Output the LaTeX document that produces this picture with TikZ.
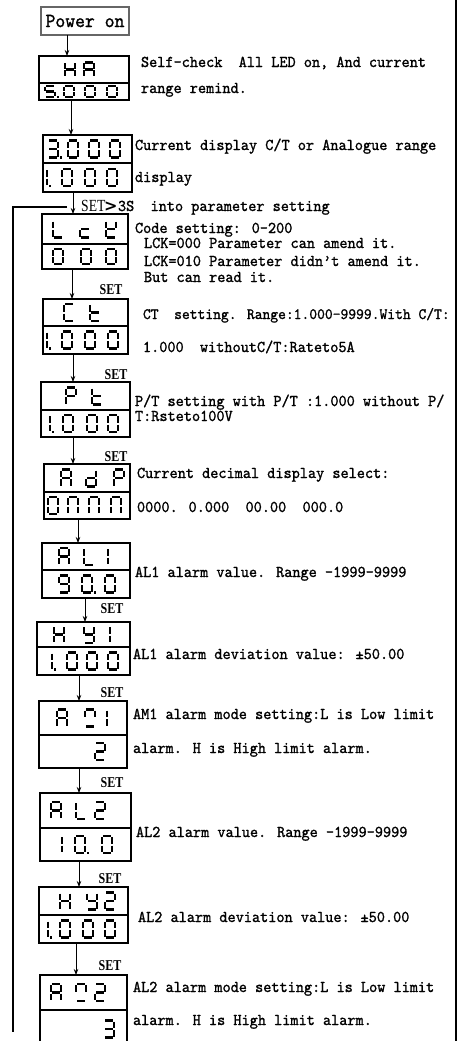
\documentclass[tikz,border=0pt]{standalone}
\usepackage{fontspec}
\usetikzlibrary{arrows.meta}
\newfontfamily\monof[FakeStretch=0.94,FakeBold=1.2]{lmmono10-regular.otf}
\newfontfamily\setf[FakeStretch=0.8]{Liberation Serif}
\newfontfamily\gtf{DejaVu Sans}
% seven-segment pieces (y axis points down)
\def\sgpa{\draw[seg] (-4,-8.5)--(4,-8.5);}
\def\sgpb{\draw[seg] (5,-7.5)--(5,-1);}
\def\sgpc{\draw[seg] (5,1)--(5,7.5);}
\def\sgpd{\draw[seg] (-4,8.5)--(4,8.5);}
\def\sgpe{\draw[seg] (-5,1)--(-5,7.5);}
\def\sgpf{\draw[seg] (-5,-7.5)--(-5,-1);}
\def\sgpg{\draw[seg] (-4,0)--(4,0);}
\def\sgpp{\fill (6.6,7.2) rectangle (9,9.8);}
\def\segloop#1{\ifx#1\relax\else\csname sgp#1\endcsname\expandafter\segloop\fi}
\newcommand\dig[4][1]{\begin{scope}[shift={(#2,#3)},yscale=#1]\segloop#4\relax\end{scope}}
\newcommand\dispbox[6]{%
  \node[disp, minimum width={#4-#2}, minimum height={#5-#3}] (#1) at (#2,#3) {};
  \draw[divl] (#1.west |- 0,#6) -- (#1.east |- 0,#6);}
\begin{document}
\begin{tikzpicture}[x=1pt,y=-1pt,
  txt/.style={font=\monof\fontsize{16.5}{18}\selectfont, anchor=base west, inner sep=0, outer sep=0},
  setl/.style={font=\setf\bfseries\fontsize{15}{17}\selectfont, anchor=base, inner sep=0},
  disp/.style={draw, line width=2.2pt, anchor=north west, inner sep=0, outer sep=0},
  divl/.style={line width=2.2pt},
  seg/.style={line width=2.4pt},
  arr/.style={line width=0.9pt, -{Stealth[length=6pt,width=4.5pt]}},
  loopl/.style={line width=2pt}]
\useasboundingbox (0,0) rectangle (459,1041);
% right border
\coordinate (rt) at (456,0); \coordinate (rb) at (456,1041);
\draw[line width=1.5pt] (rt) -- (rb);
% power on
\node[draw=black!60, line width=1.8pt, minimum width=88, minimum height=28, inner sep=0, outer sep=0,
  font=\monof\fontsize{20}{22}\selectfont] (pwr) at (85,21) {Power on};
% displays
\dispbox{d1}{39}{56}{129}{100}{83}
\dig[0.8]{70}{69.5}{bcefg}\dig[0.8]{89}{69.5}{abcefg}
\dig[0.66]{50}{91.5}{acdfgp}\dig[0.66]{69}{91.5}{abcdef}\dig[0.66]{90}{91.5}{abcdef}\dig[0.66]{112}{91.5}{abcdef}
\dispbox{d2}{43}{135}{132}{192}{163}
\dig{53}{149}{abcdgp}\dig{73}{149}{abcdef}\dig{94}{149}{abcdef}\dig{115}{149}{abcdef}
\dig{42}{177.5}{bcp}\dig{67}{177.5}{abcdef}\dig{90}{177.5}{abcdef}\dig{112}{177.5}{abcdef}
\dispbox{lck}{42}{214}{128}{269}{244}
\dig{58}{229}{def}\dig{85}{229}{deg}\dig{111}{229}{bdefg}
\dig[0.9]{58}{256.5}{abcdef}\dig[0.9]{86}{256.5}{abcdef}\dig[0.9]{111}{256.5}{abcdef}
\dispbox{ct}{43}{299}{128}{354}{326}
\dig{69}{312.5}{adef}\dig{95}{312.5}{defg}
\dig{42}{340}{bcp}\dig{67}{340}{abcdef}\dig{90}{340}{abcdef}\dig{113}{340}{abcdef}
\dispbox{pt}{41}{382}{130}{437}{410}
\dig{71}{396}{abefg}\dig{97}{396}{defg}
\dig{45}{423.5}{bcp}\dig{68}{423.5}{abcdef}\dig{92}{423.5}{abcdef}\dig{113}{423.5}{abcdef}
\dispbox{adp}{44}{464}{130}{519}{492}
\dig{66}{478}{abcefg}\dig{91}{478}{bcdeg}\dig{119}{478}{abefg}
\dig{53}{505.5}{abcdef}\dig{73}{505.5}{abcef}\dig{94}{505.5}{abcef}\dig{116}{505.5}{abcef}
\dispbox{al1}{42}{543}{130}{598}{570}
\dig{64}{556.5}{abcefg}\dig{89}{556.5}{def}\dig{103}{556.5}{bc}
\dig{64}{584}{abcdfg}\dig{87}{584}{abcdefp}\dig{110}{584}{abcdef}
\dispbox{hy1}{37}{622}{130}{675}{647}
\dig{59}{634.5}{bcefg}\dig{89}{634.5}{bcdfg}\dig{105}{634.5}{bc}
\dig{47}{661}{bcp}\dig{72}{661}{abcdef}\dig{92}{661}{abcdef}\dig{113}{661}{abcdef}
\dispbox{am1}{39}{701}{127}{768}{735}
\dig{62}{718}{abcefg}\dig{90}{718}{abfd}\dig{102}{718}{bc}
\dig{100}{751.5}{abdeg}
\dispbox{al2}{40}{793}{131}{861}{828}
\dig{56}{810.5}{abcefg}\dig{81}{810.5}{def}\dig{100}{810.5}{abdeg}
\dig{57}{844.5}{bc}\dig{80}{844.5}{abcdefp}\dig{107}{844.5}{abcdef}
\dispbox{hy2}{39}{887}{128}{943}{915}
\dig{65}{901}{bcefg}\dig{92}{901}{bcdfg}\dig{110}{901}{abdeg}
\dig{43}{929}{bcp}\dig{65}{929}{abcdef}\dig{88}{929}{abcdef}\dig{110}{929}{abcdef}
\dispbox{am2}{40}{975}{127}{1050}{1010}
\dig{56}{992.5}{abcefg}\dig{81}{992.5}{abfd}\dig{100}{992.5}{abdeg}
\dig{109}{1029}{abcdg}
% arrows
\draw[arr] (pwr.south -| 67,0) -- (d1.north -| 67,0);
\draw[arr] (d1.south -| 71,0) -- (d2.north -| 71,0);
\draw[arr] (d2.south -| 73,0) -- (lck.north -| 73,0);
\draw[arr] (lck.south -| 72,0) -- (ct.north -| 72,0);
\draw[arr] (ct.south -| 73,0) -- (pt.north -| 73,0);
\draw[arr] (pt.south -| 73,0) -- (adp.north -| 73,0);
\draw[arr] (adp.south -| 78,0) -- (al1.north -| 78,0);
\draw[arr] (al1.south -| 85,0) -- (hy1.north -| 85,0);
\draw[arr] (hy1.south -| 79,0) -- (am1.north -| 79,0);
\draw[arr] (am1.south -| 79,0) -- (al2.north -| 79,0);
\draw[arr] (al2.south -| 79,0) -- (hy2.north -| 79,0);
\draw[arr] (hy2.south -| 76,0) -- (am2.north -| 76,0);
% loop line
\coordinate (lp0) at (67,207); \coordinate (lp1) at (13,207); \coordinate (lp2) at (13,1032);
\draw[loopl] (lp0) -- (lp1) -- (lp2);
% SET labels
\node[setl] (s1) at (111,294) {SET};
\node[setl] (s2) at (116,379) {SET};
\node[setl] (s3) at (116,461) {SET};
\node[setl] (s4) at (112,613) {SET};
\node[setl] (s5) at (112,697) {SET};
\node[setl] (s6) at (112,787) {SET};
\node[setl] (s7) at (110,883) {SET};
\node[setl] (s8) at (110,970) {SET};
\node[font=\setf\fontsize{17}{17}\selectfont, anchor=base west, inner sep=0] (s0) at (81,211) {SET};
\node[font=\gtf\bfseries\fontsize{16}{16}\selectfont, anchor=base west, inner sep=0] (gt) at (104,211) {>};
% texts
\node[txt] (t1) at (141,67) {Self-check~~All LED on, And current};
\node[txt] (t2) at (141,93) {range remind.};
\node[txt] (t3) at (135,150) {Current display C/T or Analogue range};
\node[txt] (t4) at (135,182) {display};
\node[txt] (t5) at (118,211) {3S~~into parameter setting};
\node[txt] (t6) at (135,233) {Code setting: 0-200};
\node[txt] (t7) at (144,248) {LCK=000 Parameter can amend it.};
\node[txt] (t8) at (144,266) {LCK=010 Parameter didn’t amend it.};
\node[txt] (t9) at (144,282) {But can read it.};
\node[txt, font=\monof\fontsize{15.8}{18}\selectfont] (t10) at (143,319) {CT~~setting. Range:1.000-9999.With C/T:};
\node[txt] (t11) at (143,352) {1.000~~withoutC/T:Rateto5A};
\node[txt] (t12) at (135,406) {P/T setting with P/T :1.000 without P/};
\node[txt] (t13) at (135,421) {T:Rsteto100V};
\node[txt] (t14) at (137,478) {Current decimal display select:};
\node[txt] (t15) at (137,512) {0000. 0.000~~00.00~~000.0};
\node[txt] (t16) at (135,577) {AL1 alarm value. Range -1999-9999};
\node[txt] (t17) at (133,659) {AL1 alarm deviation value: ±50.00};
\node[txt] (t18) at (133,719) {AM1 alarm mode setting:L is Low limit};
\node[txt] (t19) at (133,753) {alarm. H is High limit alarm.};
\node[txt] (t20) at (136,837) {AL2 alarm value. Range -1999-9999};
\node[txt] (t21) at (138,922) {AL2 alarm deviation value: ±50.00};
\node[txt] (t22) at (133,992) {AL2 alarm mode setting:L is Low limit};
\node[txt] (t23) at (133,1025) {alarm. H is High limit alarm.};
\end{tikzpicture}
\end{document}
